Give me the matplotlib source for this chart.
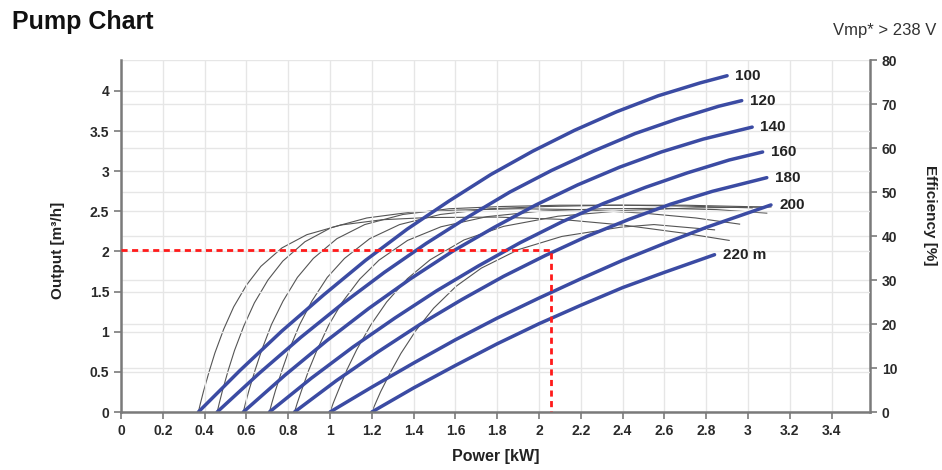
"""
Pump Chart - output and efficiency vs. power
"""
import matplotlib
matplotlib.use('Agg')
import matplotlib.pyplot as plt

plt.rcParams['font.family'] = ['Liberation Sans', 'DejaVu Sans']

# Output curves (head in m): power [kW] -> output [m3/h]
heads = ['100', '120', '140', '160', '180', '200', '220 m']
pow_100 = [0.37, 0.57, 0.77, 0.97, 1.17, 1.37, 1.57, 1.77, 1.97, 2.17, 2.37, 2.57, 2.77, 2.90]
out_100 = [0.00, 0.52, 1.01, 1.46, 1.89, 2.28, 2.63, 2.96, 3.25, 3.51, 3.74, 3.94, 4.10, 4.19]
pow_120 = [0.46, 0.66, 0.86, 1.06, 1.26, 1.46, 1.66, 1.86, 2.06, 2.26, 2.46, 2.66, 2.86, 2.97]
out_120 = [0.00, 0.48, 0.93, 1.35, 1.74, 2.10, 2.43, 2.74, 3.01, 3.25, 3.47, 3.65, 3.81, 3.88]
pow_140 = [0.585, 0.785, 0.985, 1.185, 1.385, 1.585, 1.785, 1.985, 2.185, 2.385, 2.585, 2.785, 3.02]
out_140 = [0.00, 0.46, 0.89, 1.29, 1.66, 2.00, 2.30, 2.58, 2.83, 3.05, 3.24, 3.40, 3.55]
pow_160 = [0.71, 0.91, 1.11, 1.31, 1.51, 1.71, 1.91, 2.11, 2.31, 2.51, 2.71, 2.91, 3.07]
out_160 = [0.00, 0.42, 0.81, 1.17, 1.51, 1.82, 2.11, 2.37, 2.60, 2.80, 2.98, 3.14, 3.24]
pow_180 = [0.83, 1.03, 1.23, 1.43, 1.63, 1.83, 2.03, 2.23, 2.43, 2.63, 2.83, 3.09]
out_180 = [0.00, 0.39, 0.75, 1.09, 1.40, 1.69, 1.95, 2.19, 2.40, 2.59, 2.75, 2.92]
pow_200 = [1.00, 1.20, 1.40, 1.60, 1.80, 2.00, 2.20, 2.40, 2.60, 2.80, 3.11]
out_200 = [0.00, 0.31, 0.61, 0.90, 1.17, 1.42, 1.66, 1.89, 2.10, 2.30, 2.58]
pow_220 = [1.20, 1.40, 1.60, 1.80, 2.00, 2.20, 2.40, 2.60, 2.84]
out_220 = [0.00, 0.30, 0.58, 0.85, 1.10, 1.33, 1.55, 1.74, 1.96]

# Efficiency curves: power [kW] -> efficiency [%]
epow_100 = [0.37, 0.38, 0.394, 0.421, 0.449, 0.491, 0.539, 0.601, 0.669, 0.77, 0.889,
            1.052, 1.25, 1.47, 1.8, 2.1, 2.4, 2.7, 2.91]
eff_100 = [0, 2.0, 4.6, 9.1, 13.4, 18.8, 23.9, 28.9, 33.1, 37.3, 40.3,
           42.5, 43.7, 44.2, 44.3, 43.8, 42.5, 40.6, 39.0]
epow_120 = [0.46, 0.47, 0.485, 0.513, 0.543, 0.587, 0.638, 0.703, 0.774, 0.88, 1.005,
            1.176, 1.384, 1.615, 1.9, 2.2, 2.5, 2.75, 2.96]
eff_120 = [0, 2.0, 4.8, 9.5, 14.0, 19.5, 24.8, 30.0, 34.3, 38.7, 41.9,
           44.1, 45.4, 45.9, 46.2, 46.0, 45.2, 44.1, 42.7]
epow_140 = [0.585, 0.596, 0.612, 0.642, 0.674, 0.72, 0.775, 0.844, 0.92, 1.033, 1.166,
            1.349, 1.571, 1.817, 2.1, 2.4, 2.7, 3.02]
eff_140 = [0, 2.1, 4.9, 9.6, 14.2, 19.9, 25.2, 30.6, 34.9, 39.4, 42.6,
           44.9, 46.2, 46.7, 47.0, 47.0, 46.8, 46.4]
epow_160 = [0.71, 0.722, 0.739, 0.771, 0.805, 0.855, 0.913, 0.987, 1.069, 1.19, 1.333,
            1.528, 1.766, 2.03, 2.35, 2.7, 3.07]
eff_160 = [0, 2.1, 4.9, 9.6, 14.2, 19.9, 25.2, 30.6, 34.9, 39.4, 42.6,
           44.9, 46.2, 46.7, 47.0, 47.0, 46.6]
epow_180 = [0.83, 0.843, 0.863, 0.898, 0.937, 0.993, 1.059, 1.142, 1.234, 1.371, 1.531,
            1.751, 2.018, 2.315, 2.6, 2.85, 3.09]
eff_180 = [0, 2.0, 4.8, 9.5, 14.0, 19.7, 25.0, 30.2, 34.5, 39.0, 42.1,
           44.4, 45.7, 46.2, 46.3, 46.0, 45.2]
epow_200 = [1.0, 1.016, 1.039, 1.081, 1.127, 1.194, 1.271, 1.37, 1.479, 1.641, 1.831,
            2.091, 2.408, 2.75, 3.11]
eff_200 = [0, 2.1, 4.8, 9.6, 14.1, 19.7, 25.0, 30.3, 34.6, 39.1, 42.2,
           44.5, 45.8, 46.4, 46.6]
epow_220 = [1.2, 1.217, 1.242, 1.289, 1.339, 1.412, 1.496, 1.604, 1.724, 1.901, 2.109,
            2.39, 2.55, 2.84]
eff_220 = [0, 1.9, 4.6, 9.0, 13.3, 18.6, 23.6, 28.6, 32.7, 36.9, 39.9,
           42.0, 42.6, 41.4]

# Operating point
op_power = 2.055
op_output = 2.02

x_ticks = [0, 0.2, 0.4, 0.6, 0.8, 1, 1.2, 1.4, 1.6, 1.8, 2, 2.2, 2.4, 2.6, 2.8, 3, 3.2, 3.4]
y_ticks = [0, 0.5, 1, 1.5, 2, 2.5, 3, 3.5, 4]
eff_ticks = [0, 10, 20, 30, 40, 50, 60, 70, 80]

output_curves = [(pow_100, out_100), (pow_120, out_120), (pow_140, out_140),
                 (pow_160, out_160), (pow_180, out_180), (pow_200, out_200),
                 (pow_220, out_220)]
eff_curves = [(epow_100, eff_100), (epow_120, eff_120), (epow_140, eff_140),
              (epow_160, eff_160), (epow_180, eff_180), (epow_200, eff_200),
              (epow_220, eff_220)]

fig = plt.figure(figsize=(9.42, 4.70), dpi=100)
ax = fig.add_axes([0.1285, 0.1234, 0.7951, 0.7489])
ax2 = ax.twinx()
ax.set_zorder(ax2.get_zorder() + 1)
ax.patch.set_visible(False)

spine_col = '#7a7a7a'
text_col = '#2a2a2a'

# efficiency (right axis)
for p, e in eff_curves:
    ax2.plot(p, e, color='#555555', linewidth=0.8, solid_joinstyle='round')

# output curves (left axis)
for (p, q), name in zip(output_curves, heads):
    ax.plot(p, q, color='#3b4ba3', linewidth=2.5, solid_capstyle='round',
            solid_joinstyle='round')
    ax.annotate(name, (p[-1], q[-1]), xytext=(6, 0), textcoords='offset points',
                ha='left', va='center', fontsize=11, fontweight='bold', color='#222222')

# operating point
ax.plot([0, op_power, op_power], [op_output, op_output, 0], color='#ff1a1a',
        linewidth=2, linestyle=(0, (2.2, 1.6)), zorder=5)

ax.set_xlim(0, 3.584)
ax.set_ylim(0, 4.386)
ax2.set_ylim(0, 80)

ax.set_xticks(x_ticks)
ax.set_xticklabels([f'{t:g}' for t in x_ticks])
ax.set_yticks(y_ticks)
ax.set_yticklabels([f'{t:g}' for t in y_ticks])
ax2.set_yticks(eff_ticks)

ax.grid(True, color='#e6e6e6', linewidth=1)
ax2.grid(True, axis='y', color='#e6e6e6', linewidth=1)
ax.set_axisbelow(True)
ax2.set_axisbelow(True)

for a in (ax, ax2):
    a.spines['top'].set_visible(False)
    for s in ('left', 'right', 'bottom'):
        a.spines[s].set_color(spine_col)
        a.spines[s].set_linewidth(1.8)
    a.tick_params(colors=spine_col, width=1.2, length=5, labelcolor=text_col,
                  labelsize=10)
    for lbl in a.get_xticklabels() + a.get_yticklabels():
        lbl.set_fontweight('bold')
ax.spines['right'].set_visible(False)
ax2.spines['left'].set_visible(False)
ax2.spines['bottom'].set_visible(False)

ax.set_xlabel('Power [kW]', fontsize=11.5, fontweight='bold', color='#222222')
ax.xaxis.set_label_coords(0.5, -0.105)
ax.set_ylabel('Output [m³/h]', fontsize=11, fontweight='bold', color='#222222')
ax.yaxis.set_label_coords(-0.075, 0.46)
fig.text(0.987, 0.543, 'Efficiency [%]', fontsize=11, fontweight='bold',
         color='#222222', rotation=-90, ha='center', va='center')

fig.text(0.013, 0.953, 'Pump Chart', fontsize=18, fontweight='bold',
         color='#111111', va='center', ha='left')
fig.text(0.994, 0.935, 'Vmp* > 238 V', fontsize=12, color='#333333',
         va='center', ha='right')

plt.savefig('out.png', dpi=100)
